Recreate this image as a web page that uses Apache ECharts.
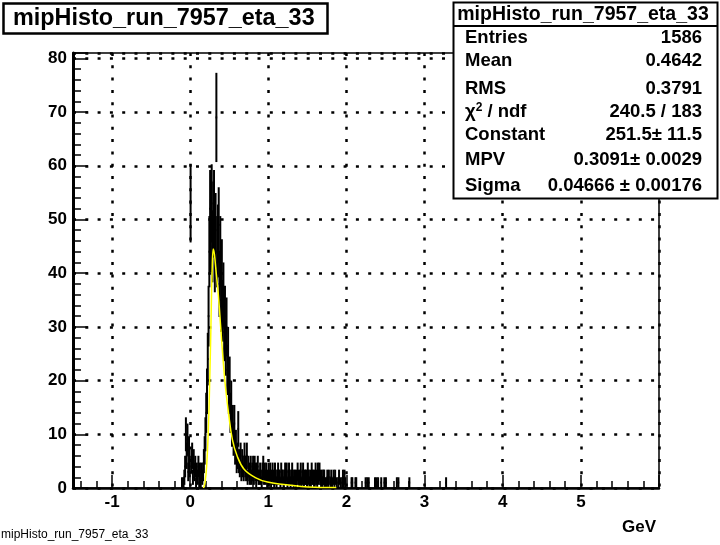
<!DOCTYPE html>
<html><head><meta charset="utf-8">
<script src="https://cdn.jsdelivr.net/npm/echarts@6/dist/echarts.min.js"></script>
<style>html,body{margin:0;padding:0;background:#fff}#c{width:720px;height:545px}</style>
</head><body><div id="c"></div>
<script>
const histTitle = 'mipHisto_run_7957_eta_33';
const xAxisTitle = 'GeV';
const binStart = -0.12;
const binWidth = 0.01;
const counts = [
  0,1,0,1,2,4,10,6,9,3,
  7,4,53,5,6,2,5,3,4,1,
  3,2,4,1,3,1,3,2,3,5,
  7,10,14,18,24,32,44,52,47,53,
  45,50,52,43,48,69,44,46,49,38,
  44,35,40,33,36,29,32,26,30,22,
  25,18,20,14,16,11,12,9,12,7,
  8,5,6,11,5,4,6,3,5,4,
  3,6,4,3,6,2,4,3,2,4,
  2,3,4,2,4,3,1,3,4,2,
  2,3,2,1,3,4,2,3,2,3,
  1,2,3,2,3,1,2,3,2,1,
  3,2,1,2,3,2,2,1,3,2,
  2,1,2,3,2,3,1,2,3,2,
  1,2,3,2,1,2,2,1,2,3,
  2,1,2,3,1,2,3,1,2,2,
  2,1,3,2,1,2,1,3,2,2,
  1,2,3,2,1,3,2,3,2,1,
  2,1,2,2,1,0,1,2,1,2,
  0,1,2,1,0,2,1,2,0,1,
  0,1,2,0,1,0,1,2,1,2,
  1,0,0,0,0,0,0,0,1,1,
  0,0,0,1,1,0,0,0,0,0,
  0,0,0,0,0,0,1,0,1,0,
  1,0,0,0,0,0,0,0,1,0,
  1,0,1,0,0,0,1,0,0,0,
  1,0,1,0,0,0,0,0,0,0,
  0,0,0,0,0,0,1,0,1,0,
  0,0,0,0,0,0,0,0,0,0,
  0,0,1,0,0,0,0,0,0,0,
  0,0,0,0,0,0,0,0,0,0,
  0,0,0,0,0,0,0,0,0,0,
  0,0,0,0,0,0,0,0,0,0,
  0,0,0,0,0,0,0,0,0,1
];
const fitX = [0.17,0.19,0.21,0.23,0.25,0.265,0.28,0.295,0.31,0.33,0.36,0.39,0.415,0.45,0.49,0.54,0.60,0.69,0.84,0.99,1.2,1.42,1.6,1.87];
const fitY = [0,1,4,10,20,30,40,44.5,43.5,40.5,36,30,25,19,14,9,6,3.5,1.9,1.1,0.65,0.3,0.15,0.08];
const statsLabels = ['Entries','Mean','RMS','chi2','Constant','MPV','Sigma'];
const statsValues = ['1586','0.4642','0.3791','240.5 / 183','251.5\u00b1 11.5','0.3091\u00b1 0.0029','0.04666 \u00b1 0.00176'];
const statsY = [37.5, 61, 89, 112, 135, 160, 185.5];
const yMax = 81;

const FONT = 'Liberation Sans, Arial, Helvetica, sans-serif';
const histData = counts.map((n, i) => [binStart + (i + 0.5) * binWidth, n]).filter(d => d[1] > 0);
const fitData = fitX.map((x, i) => [x, fitY[i]]);

const chart = echarts.init(document.getElementById('c'), null, {renderer: 'canvas'});

const statsGraphics = [];
statsGraphics.push({type:'rect', shape:{x:453.5, y:2.5, width:264, height:196}, style:{fill:'#fff', stroke:'#000', lineWidth:2}, z:100});
statsGraphics.push({type:'line', shape:{x1:453.5, y1:26, x2:717.5, y2:26}, style:{stroke:'#000', lineWidth:2}, z:101});
statsGraphics.push({type:'text', x:583, y:15, style:{text:histTitle, font:'bold 19.5px ' + FONT, fill:'#000', align:'center', verticalAlign:'middle'}, z:101});
statsLabels.forEach((lab, i) => {
  if (lab === 'chi2') {
    statsGraphics.push({type:'text', x:465, y:statsY[i], style:{text:'{g|\u03c7}{s|2}{g| / ndf}', verticalAlign:'middle', rich:{g:{font:'bold 18.5px ' + FONT, fill:'#000'}, s:{font:'bold 12px ' + FONT, fill:'#000', verticalAlign:'top', padding:[0,0,8,0]}}}, z:101});
  } else {
    statsGraphics.push({type:'text', x:465, y:statsY[i], style:{text:lab, font:'bold 18.5px ' + FONT, fill:'#000', verticalAlign:'middle'}, z:101});
  }
  statsGraphics.push({type:'text', x:702, y:statsY[i], style:{text:statsValues[i], font:'bold 18.5px ' + FONT, fill:'#000', align:'right', verticalAlign:'middle'}, z:101});
});

const option = {
  backgroundColor: '#fff',
  animation: false,
  grid: {left:73, right:61, top:53, bottom:57, show:true, borderColor:'#000', borderWidth:1.5, backgroundColor:'transparent'},
  xAxis: {
    type:'value', min:-1.5, max:6, splitNumber:8,
    axisLine:{show:true, onZero:false, lineStyle:{color:'#000', width:2.5}},
    axisTick:{show:true, inside:true, length:13, lineStyle:{color:'#000', width:1.5}},
    minorTick:{show:true, splitNumber:5, length:7, lineStyle:{color:'#000', width:1.5}},
    axisLabel:{showMinLabel:false, showMaxLabel:false, color:'#000', fontFamily:FONT, fontWeight:'bold', fontSize:17, margin:6,
      formatter: v => (Math.abs(v - Math.round(v)) < 1e-9 ? String(Math.round(v)) : '')},
    splitLine:{show:true, lineStyle:{color:'#000', width:2.5, type:[3,9.3]}}
  },
  yAxis: {
    type:'value', min:0, max:yMax, interval:10,
    axisLine:{show:true, onZero:false, lineStyle:{color:'#000', width:3}},
    axisTick:{show:true, inside:true, length:15, lineStyle:{color:'#000', width:1.5}},
    minorTick:{show:true, splitNumber:5, length:8, lineStyle:{color:'#000', width:1.5}},
    axisLabel:{showMaxLabel:false, color:'#000', fontFamily:FONT, fontWeight:'bold', fontSize:17, margin:6,
      formatter: v => (v % 10 === 0 ? String(v) : '')},
    splitLine:{show:true, lineStyle:{color:'#000', width:2.5, type:[3,9.3]}}
  },
  series: [
    {
      type:'custom', clip:true, data:histData, encode:{x:0, y:1}, z:5,
      renderItem: function (params, api) {
        const xc = api.value(0), n = api.value(1), e = Math.sqrt(n);
        const pl = api.coord([xc - binWidth / 2, n]);
        const pr = api.coord([xc + binWidth / 2, n]);
        const pt = api.coord([xc, n + e]);
        const pb = api.coord([xc, n - e]);
        return {type:'group', children:[
          {type:'line', shape:{x1:pl[0] - 0.4, y1:pl[1], x2:pr[0] + 0.4, y2:pr[1]}, style:{stroke:'#000', lineWidth:2}},
          {type:'line', shape:{x1:pt[0], y1:pt[1], x2:pb[0], y2:pb[1]}, style:{stroke:'#000', lineWidth:2}}
        ]};
      }
    },
    {
      type:'line', data:fitData, showSymbol:false, smooth:0.4, z:6,
      lineStyle:{color:'#ffff00', width:1.5}
    }
  ],
  graphic: [
    {type:'rect', shape:{x:3.5, y:3.5, width:324, height:30}, style:{fill:'#fff', stroke:'#000', lineWidth:2.5}, z:100},
    {type:'text', x:13, y:18.5, style:{text:histTitle, font:'bold 23.4px ' + FONT, fill:'#000', verticalAlign:'middle'}, z:101},
    {type:'text', x:656, y:527, style:{text:xAxisTitle, font:'bold 17px ' + FONT, fill:'#000', align:'right', verticalAlign:'middle'}, z:101},
    {type:'text', x:1, y:535, style:{text:histTitle, font:'12px ' + FONT, fill:'#000', verticalAlign:'middle'}, z:101}
  ].concat(statsGraphics)
};
chart.setOption(option);
</script>
</body></html>
